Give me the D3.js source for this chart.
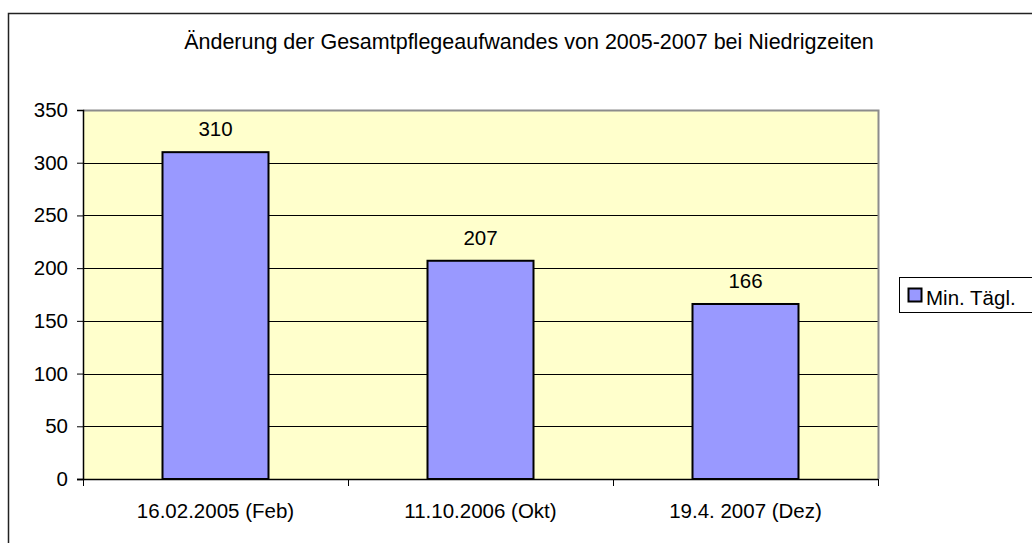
<!DOCTYPE html>
<html>
<head>
<meta charset="utf-8">
<script src="https://cdn.jsdelivr.net/npm/d3@7"></script>
<style>
  body { margin: 0; background: #fff; }
  svg { display: block; font-family: "Liberation Sans", Arial, sans-serif; }
</style>
</head>
<body>
<div id="chart"></div>
<script>
// chart data
var categories = ["16.02.2005 (Feb)", "11.10.2006 (Okt)", "19.4. 2007 (Dez)"];
var values = [310, 207, 166];
var yTicks = [0, 50, 100, 150, 200, 250, 300, 350];
var seriesName = "Min. Tägl.";
var title = "Änderung der Gesamtpflegeaufwandes von 2005-2007 bei Niedrigzeiten";

var W = 1032, H = 543;
var plot = { left: 83, top: 110, right: 878, bottom: 479 };
var fs = 20.5;

var svg = d3.select('#chart').append('svg')
	.attr('width', W)
	.attr('height', H);

// outer chart frame (runs off the right and bottom edge)
svg.append('rect')
	.attr('x', 8.5).attr('y', 13.5)
	.attr('width', W + 20).attr('height', H + 20)
	.attr('fill', '#fff')
	.attr('stroke', '#222')
	.attr('stroke-width', 1.5);

svg.append('text')
	.attr('x', 529).attr('y', 49)
	.attr('text-anchor', 'middle')
	.attr('font-size', 21.5)
	.text(title);

var x = d3.scaleBand()
	.domain(categories)
	.range([plot.left, plot.right])
	.paddingInner(0.6)
	.paddingOuter(0.3);

var y = d3.scaleLinear()
	.domain([0, 350])
	.range([plot.bottom, plot.top]);

// plot area
svg.append('rect')
	.attr('x', plot.left).attr('y', plot.top)
	.attr('width', plot.right - plot.left)
	.attr('height', plot.bottom - plot.top)
	.attr('fill', '#FFFFCC');

// gridlines
svg.selectAll('line.grid')
	.data(yTicks.filter(function (d) { return d > 0 && d < 350; }))
	.enter().append('line')
		.attr('class', 'grid')
		.attr('x1', plot.left).attr('x2', plot.right)
		.attr('y1', function (d) { return Math.round(y(d)) + 0.5; })
		.attr('y2', function (d) { return Math.round(y(d)) + 0.5; })
		.attr('stroke', '#000')
		.attr('stroke-width', 1);

// grey plot border top & right
svg.append('path')
	.attr('d', 'M' + plot.left + ',' + (plot.top + 0.5) + 'H' + (plot.right + 0.5) + 'V' + plot.bottom)
	.attr('fill', 'none')
	.attr('stroke', '#8c8c8c')
	.attr('stroke-width', 2);

// bars
svg.selectAll('rect.bar')
	.data(values)
	.enter().append('rect')
		.attr('class', 'bar')
		.attr('x', function (d, i) { return x(categories[i]); })
		.attr('y', function (d) { return y(d); })
		.attr('width', x.bandwidth())
		.attr('height', function (d) { return y(0) - y(d); })
		.attr('fill', '#9999FF')
		.attr('stroke', '#000')
		.attr('stroke-width', 2);

// value labels
svg.selectAll('text.val')
	.data(values)
	.enter().append('text')
		.attr('class', 'val')
		.attr('x', function (d, i) { return x(categories[i]) + x.bandwidth() / 2; })
		.attr('y', function (d) { return y(d) - 16; })
		.attr('text-anchor', 'middle')
		.attr('font-size', fs)
		.text(function (d) { return d; });

// y axis
var yAxis = d3.axisLeft(y)
	.tickValues(yTicks)
	.tickSize(6)
	.tickPadding(9);
var gy = svg.append('g')
	.attr('transform', 'translate(' + plot.left + ',0)')
	.call(yAxis);
gy.select('.domain').attr('stroke', '#000').attr('stroke-width', 1.5);
gy.selectAll('.tick line').attr('stroke', '#000');
gy.selectAll('.tick text')
	.attr('font-size', fs)
	.attr('font-family', '"Liberation Sans", Arial, sans-serif')
	.attr('fill', '#000');

// x axis
var gx = svg.append('g')
	.attr('transform', 'translate(0,' + plot.bottom + ')');
gx.append('line')
	.attr('x1', plot.left - 6).attr('x2', plot.right)
	.attr('y1', 0.5).attr('y2', 0.5)
	.attr('stroke', '#000').attr('stroke-width', 1.5);
var bounds = [plot.left].concat(categories.map(function (c) { return x(c) + x.bandwidth() + x.step() * 0.3; }));
gx.selectAll('line.tk')
	.data(bounds)
	.enter().append('line')
		.attr('class', 'tk')
		.attr('x1', function (d) { return Math.round(d) + 0.5; })
		.attr('x2', function (d) { return Math.round(d) + 0.5; })
		.attr('y1', 0).attr('y2', 7)
		.attr('stroke', '#000');
gx.selectAll('text')
	.data(categories)
	.enter().append('text')
		.attr('x', function (d) { return x(d) + x.bandwidth() / 2; })
		.attr('y', 39)
		.attr('text-anchor', 'middle')
		.attr('font-size', fs)
		.text(function (d) { return d; });

// legend
var lg = svg.append('g').attr('transform', 'translate(899,277)');
lg.append('rect')
	.attr('x', 0.5).attr('y', 0.5)
	.attr('width', 150).attr('height', 35)
	.attr('fill', '#fff')
	.attr('stroke', '#000');
lg.append('rect')
	.attr('x', 9.5).attr('y', 11.5)
	.attr('width', 13).attr('height', 13)
	.attr('fill', '#9999FF')
	.attr('stroke', '#000')
	.attr('stroke-width', 2);
lg.append('text')
	.attr('x', 27).attr('y', 28)
	.attr('font-size', fs)
	.text(seriesName);
</script>
</body>
</html>
